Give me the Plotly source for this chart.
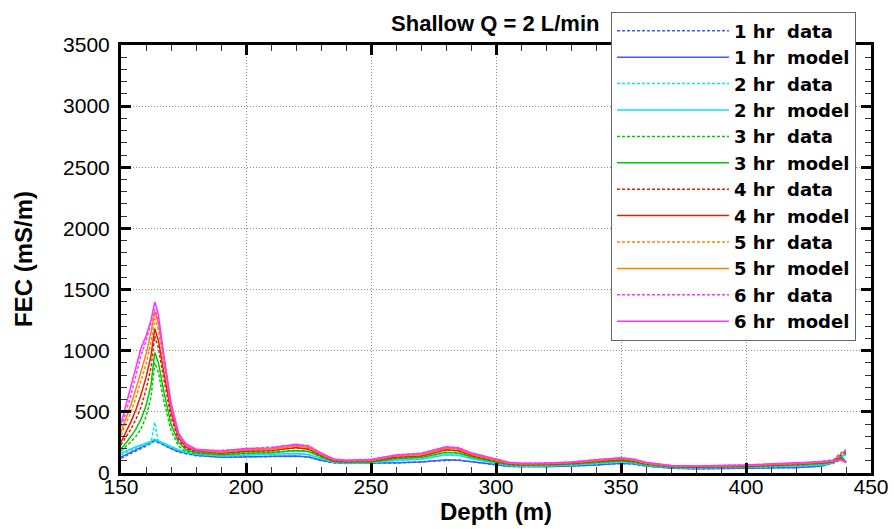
import plotly.graph_objects as go

# Depth stations (m)
depth = [150, 152, 154, 156, 158, 160, 162, 163.5, 165, 167,
         170, 173, 176, 180, 190, 200, 210, 220, 225, 230,
         235, 240, 250, 260, 270, 280, 285, 290, 300, 305,
         310, 320, 330, 340, 350, 355, 360, 370, 380, 400,
         420, 430, 435, 438, 440]

# Modelled FEC profiles (mS/m)
model_1hr = [130, 150, 168, 188, 208, 228, 250, 272, 255, 235,
             200, 175, 160, 145, 128, 135, 136, 138, 130, 105,
             85, 80, 80, 83, 90, 108, 105, 95, 70, 55,
             52, 52, 58, 65, 80, 75, 58, 40, 35, 38,
             45, 55, 85, 138, 90]
model_2hr = [160, 180, 198, 215, 230, 243, 258, 275, 262, 245,
             215, 190, 170, 155, 140, 148, 150, 160, 150, 118,
             90, 82, 84, 105, 112, 150, 145, 118, 80, 62,
             58, 58, 65, 76, 90, 83, 63, 45, 42, 46,
             56, 66, 82, 130, 82]
model_3hr = [200, 245, 300, 360, 440, 550, 720, 985, 900, 680,
             400, 250, 190, 165, 150, 162, 165, 185, 175, 132,
             95, 88, 90, 118, 126, 170, 163, 132, 90, 70,
             64, 65, 73, 86, 100, 92, 70, 50, 47, 52,
             64, 76, 88, 125, 84]
model_4hr = [252, 330, 420, 520, 640, 780, 960, 1180, 1080, 840,
             500, 290, 210, 180, 162, 178, 182, 208, 195, 145,
             103, 95, 98, 130, 140, 190, 182, 145, 98, 77,
             70, 71, 80, 95, 110, 100, 77, 55, 52, 58,
             72, 84, 92, 120, 86]
model_5hr = [335, 440, 560, 690, 830, 970, 1150, 1320, 1220, 950,
             580, 330, 230, 190, 172, 190, 195, 222, 208, 155,
             110, 100, 104, 140, 150, 205, 195, 155, 105, 82,
             75, 76, 85, 102, 118, 106, 82, 58, 55, 62,
             76, 88, 96, 110, 88]
model_6hr = [404, 560, 715, 870, 1020, 1120, 1250, 1400, 1290, 980,
             560, 320, 240, 195, 180, 200, 205, 235, 220, 165,
             115, 105, 110, 148, 160, 215, 205, 165, 112, 88,
             80, 80, 90, 108, 125, 112, 88, 62, 58, 65,
             80, 92, 100, 105, 90]

# Measured FEC profiles (mS/m)
data_1hr = [120, 140, 160, 180, 200, 220, 240, 262, 248, 228,
            195, 172, 158, 142, 130, 133, 138, 136, 132, 103,
            83, 78, 82, 81, 92, 106, 107, 93, 68, 53,
            51, 53, 57, 66, 78, 73, 56, 39, 34, 39,
            44, 57, 80, 110, 160]
data_2hr = [150, 170, 188, 205, 220, 232, 245, 415, 250, 235,
            208, 185, 167, 152, 142, 146, 152, 158, 152, 116,
            88, 80, 86, 103, 114, 147, 147, 116, 78, 60,
            57, 59, 64, 78, 88, 81, 61, 44, 41, 47,
            55, 68, 90, 120, 165]
data_3hr = [180, 215, 255, 300, 360, 460, 620, 900, 820, 600,
            350, 220, 175, 160, 152, 160, 168, 182, 178, 130,
            93, 86, 92, 116, 128, 166, 165, 130, 88, 68,
            63, 66, 72, 88, 98, 90, 68, 49, 46, 53,
            62, 78, 95, 140, 175]
data_4hr = [230, 290, 360, 440, 540, 680, 860, 1120, 1020, 780,
            460, 270, 200, 175, 165, 175, 185, 205, 197, 142,
            100, 93, 100, 128, 142, 186, 184, 142, 96, 75,
            70, 73, 78, 96, 108, 98, 75, 54, 51, 59,
            70, 86, 100, 150, 180]
data_5hr = [310, 400, 500, 620, 750, 890, 1070, 1260, 1170, 900,
            540, 310, 220, 185, 168, 192, 192, 218, 210, 150,
            108, 98, 102, 142, 148, 200, 198, 152, 103, 80,
            74, 78, 83, 100, 120, 104, 80, 57, 54, 63,
            75, 90, 105, 160, 185]
data_6hr = [380, 500, 640, 800, 960, 1080, 1220, 1340, 1250, 950,
            540, 300, 225, 185, 185, 195, 210, 228, 225, 160,
            112, 102, 112, 145, 162, 210, 208, 160, 115, 86,
            78, 82, 88, 110, 122, 115, 85, 60, 57, 66,
            78, 95, 110, 165, 190]

hours = ["1 hr", "2 hr", "3 hr", "4 hr", "5 hr", "6 hr"]
colors = ["#3d5cff", "#00e8f0", "#00c800", "#dd2200", "#ff8000", "#ff33ff"]
models = [model_1hr, model_2hr, model_3hr, model_4hr, model_5hr, model_6hr]
datas = [data_1hr, data_2hr, data_3hr, data_4hr, data_5hr, data_6hr]

FONT = "Liberation Sans, Arial, sans-serif"

fig = go.Figure()
for i, (h, c) in enumerate(zip(hours, colors)):
    fig.add_trace(go.Scatter(
        x=depth, y=datas[i], mode="lines", name=f"{h}&nbsp;&nbsp;data",
        line=dict(color=c, width=1.5, dash="3px,2px")))
    fig.add_trace(go.Scatter(
        x=depth, y=models[i], mode="lines", name=f"{h}&nbsp;&nbsp;model",
        line=dict(color=c, width=1.5)))

axis_common = dict(
    showline=True, linecolor="black", linewidth=3, mirror="allticks",
    ticks="inside", ticklen=10, tickwidth=3, tickcolor="black",
    showgrid=True, gridcolor="#8a8a8a", griddash="1px,2px", gridwidth=1,
    zeroline=False, automargin=False,
    tickfont=dict(family=FONT, size=21, color="black"),
)

fig.update_xaxes(
    range=[150, 450], dtick=50, tick0=150,
    minor=dict(dtick=10, ticks="inside", ticklen=6, tickwidth=1, tickcolor="#333333", showgrid=False),
    ticklabelstandoff=-7,
    title=dict(text="<b>Depth (m)</b>", standoff=2,
               font=dict(family=FONT, size=24, color="black")),
    **axis_common)
fig.update_yaxes(
    range=[0, 3500], dtick=500,
    minor=dict(dtick=100, ticks="inside", ticklen=6, tickwidth=1, tickcolor="#333333", showgrid=False),
    ticklabelstandoff=4,
    title=dict(text="<b>FEC (mS/m)</b>", standoff=24,
               font=dict(family=FONT, size=24, color="black")),
    **axis_common)

fig.update_layout(
    width=894, height=529,
    margin=dict(l=121, r=23, t=43, b=56),
    paper_bgcolor="white", plot_bgcolor="white",
    title=dict(text="<b>Shallow Q = 2 L/min</b>", x=0.499, xref="paper", xanchor="center",
               y=1 - 23 / 529, yref="container", yanchor="middle",
               font=dict(family=FONT, size=22, color="black")),
    legend=dict(
        x=0.6533, y=1.078, xanchor="left", yanchor="top",
        bgcolor="white", bordercolor="#666666", borderwidth=1,
        itemwidth=112, maxheight=520,
        font=dict(family="DejaVu Sans, sans-serif", size=18, color="black", weight="bold"),
    ),
)

fig.write_html("out.html")
